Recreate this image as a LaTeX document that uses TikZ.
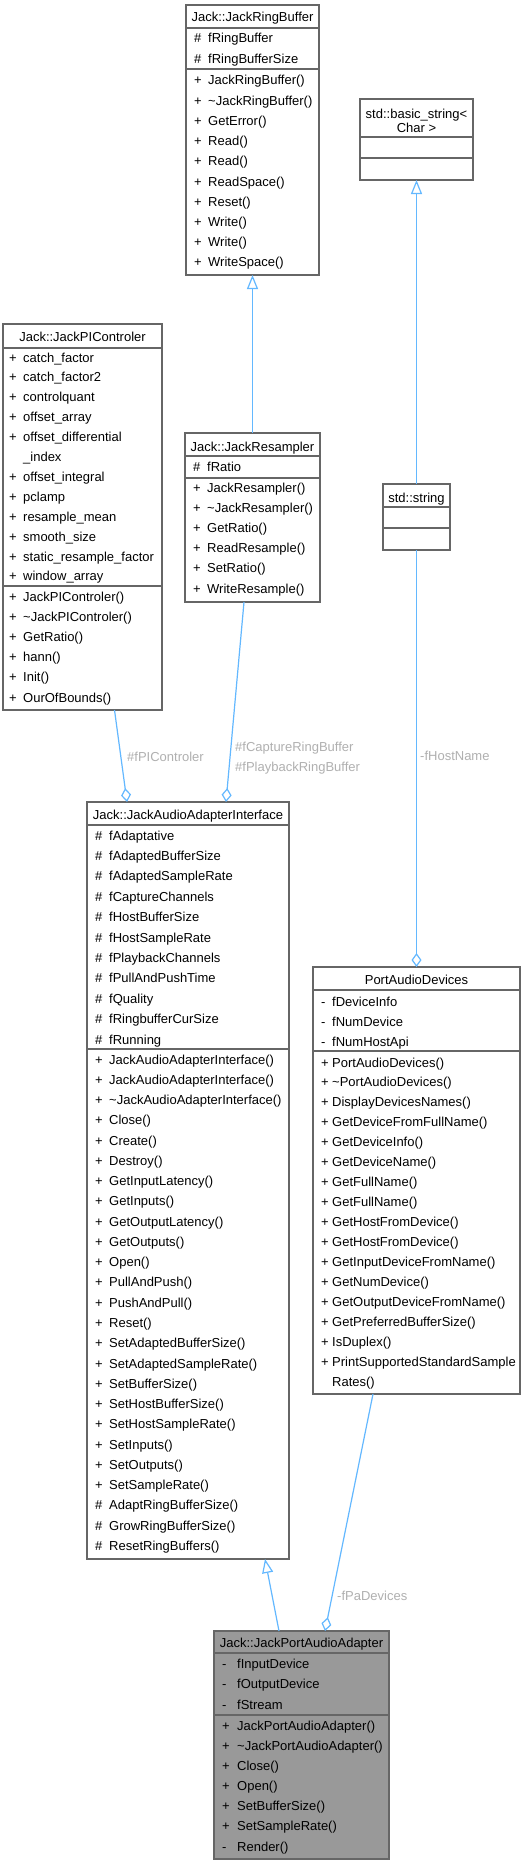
\documentclass[tikz,border=0pt]{standalone}
\usepackage{fontspec}
\setmainfont{Liberation Sans}
\usetikzlibrary{arrows.meta}
\definecolor{edgeblue}{HTML}{63B8FF}
\definecolor{framegray}{HTML}{666666}
\definecolor{labelgray}{HTML}{B0B0B0}
\definecolor{darkfill}{HTML}{999999}
\newcommand\umlfont{\fontsize{13}{15}\selectfont}
\newcommand\memrows[6]{%
  \foreach \pp/\nn [count=\ii from 0] in {#6}{%
    \node[member] (#1-\ii) at (#2,{#4+\ii*#5}) {\makebox[#3pt][l]{\pp}\nn};
  }%
}
\newcommand\umlbox[8]{%
  \node[frame, fill=#8, minimum width={#3pt-#2pt}, minimum height={#7pt-#4pt}, anchor=north west] (#1) at (#2,#4) {};
  \draw[framegray, line width=1.2pt] (#2,#5) -- (#3,#5) (#2,#6) -- (#3,#6);
}
\tikzset{
  frame/.style={draw=framegray, line width=1.2pt, inner sep=0pt, outer sep=0pt, rectangle},
  member/.style={anchor=base west, inner sep=0pt, font=\umlfont},
  cltitle/.style={anchor=base, inner sep=0pt, font=\umlfont},
  elabel/.style={anchor=base west, inner sep=0pt, font=\umlfont, text=labelgray},
  inherit/.style={draw=edgeblue, line width=1.2pt, -{Triangle[open, length=14pt, width=11pt]}},
  aggr/.style={draw=edgeblue, line width=1.2pt, -{Diamond[open, length=14pt, width=10pt]}},
}
\begin{document}
\begin{tikzpicture}[x=1pt,y=-1pt]
\path[use as bounding box, fill=white] (0,0) rectangle (525,1865);

% Jack::JackRingBuffer
\umlbox{rb}{186}{319}{5}{28}{69}{275}{white}
\node[cltitle] (rbT) at (252.5,22) {Jack::JackRingBuffer};
\memrows{rbA}{194}{14}{43}{20.5}{\#/fRingBuffer, \#/fRingBufferSize}
\memrows{rbM}{194}{14}{85}{20.2}{+/JackRingBuffer(), +/\textasciitilde JackRingBuffer(), +/GetError(), +/Read(), +/Read(), +/ReadSpace(), +/Reset(), +/Write(), +/Write(), +/WriteSpace()}

% std::basic_string< Char >
\umlbox{bs}{360}{473}{99}{137}{158}{180}{white}
\node[cltitle] (bsT1) at (416.5,119) {std::basic\_string<};
\node[cltitle] (bsT2) at (416.5,132.5) {Char >};

% Jack::JackPIControler
\umlbox{pic}{3}{162}{324}{348}{586}{710}{white}
\node[cltitle] (picT) at (82.5,341) {Jack::JackPIControler};
\memrows{picA}{9}{14}{362}{19.9}{+/catch\_factor, +/catch\_factor2, +/controlquant, +/offset\_array, +/offset\_differential, {}/\_index, +/offset\_integral, +/pclamp, +/resample\_mean, +/smooth\_size, +/static\_resample\_factor, +/window\_array}
\memrows{picM}{9}{14}{601}{20.2}{+/JackPIControler(), +/\textasciitilde JackPIControler(), +/GetRatio(), +/hann(), +/Init(), +/OurOfBounds()}

% Jack::JackResampler
\umlbox{rs}{185}{320}{433}{456}{478}{602}{white}
\node[cltitle] (rsT) at (252.5,451) {Jack::JackResampler};
\memrows{rsA}{193}{14}{471.7}{20.2}{\#/fRatio}
\memrows{rsM}{193}{14}{492}{20.2}{+/JackResampler(), +/\textasciitilde JackResampler(), +/GetRatio(), +/ReadResample(), +/SetRatio(), +/WriteResample()}

% std::string
\umlbox{str}{383}{450}{484}{507}{528}{550}{white}
\node[cltitle] (strT) at (416.5,502) {std::string};

% Jack::JackAudioAdapterInterface
\umlbox{jaai}{87}{289}{802}{825}{1049}{1559}{white}
\node[cltitle] (jaaiT) at (188,819) {Jack::JackAudioAdapterInterface};
\memrows{jaaiA}{95}{14}{840}{20.4}{\#/fAdaptative, \#/fAdaptedBufferSize, \#/fAdaptedSampleRate, \#/fCaptureChannels, \#/fHostBufferSize, \#/fHostSampleRate, \#/fPlaybackChannels, \#/fPullAndPushTime, \#/fQuality, \#/fRingbufferCurSize, \#/fRunning}
\memrows{jaaiM}{95}{14}{1064}{20.27}{+/JackAudioAdapterInterface(), +/JackAudioAdapterInterface(), +/\textasciitilde JackAudioAdapterInterface(), +/Close(), +/Create(), +/Destroy(), +/GetInputLatency(), +/GetInputs(), +/GetOutputLatency(), +/GetOutputs(), +/Open(), +/PullAndPush(), +/PushAndPull(), +/Reset(), +/SetAdaptedBufferSize(), +/SetAdaptedSampleRate(), +/SetBufferSize(), +/SetHostBufferSize(), +/SetHostSampleRate(), +/SetInputs(), +/SetOutputs(), +/SetSampleRate(), \#/AdaptRingBufferSize(), \#/GrowRingBufferSize(), \#/ResetRingBuffers()}

% PortAudioDevices
\umlbox{pad}{313}{520}{967}{990}{1051}{1394}{white}
\node[cltitle] (padT) at (416.5,984) {PortAudioDevices};
\memrows{padA}{321}{11}{1006}{20}{-/fDeviceInfo, -/fNumDevice, -/fNumHostApi}
\memrows{padM}{321}{11}{1067}{19.94}{+/PortAudioDevices(), +/\textasciitilde PortAudioDevices(), +/DisplayDevicesNames(), +/GetDeviceFromFullName(), +/GetDeviceInfo(), +/GetDeviceName(), +/GetFullName(), +/GetFullName(), +/GetHostFromDevice(), +/GetHostFromDevice(), +/GetInputDeviceFromName(), +/GetNumDevice(), +/GetOutputDeviceFromName(), +/GetPreferredBufferSize(), +/IsDuplex(), +/PrintSupportedStandardSample, {}/Rates()}

% Jack::JackPortAudioAdapter
\umlbox{jpaa}{214}{389}{1631}{1653}{1715}{1859}{darkfill}
\node[cltitle] (jpaaT) at (301.5,1647) {Jack::JackPortAudioAdapter};
\memrows{jpaaA}{222}{15}{1668}{20.7}{-/fInputDevice, -/fOutputDevice, -/fStream}
\memrows{jpaaM}{222}{15}{1730}{20.17}{+/JackPortAudioAdapter(), +/\textasciitilde JackPortAudioAdapter(), +/Close(), +/Open(), +/SetBufferSize(), +/SetSampleRate(), -/Render()}

% connectors
\draw[inherit] (rs.north) -- (rb.south);
\draw[inherit] (str.north) -- (bs.south);
\draw[aggr] ([xshift=111.5pt]pic.south west) -- ([xshift=40pt]jaai.north west);
\draw[aggr] ([xshift=59pt]rs.south west) -- ([xshift=139pt]jaai.north west);
\draw[aggr] (str.south) -- (pad.north);
\draw[inherit] ([xshift=65pt]jpaa.north west) -- ([xshift=178pt]jaai.south west);
\draw[aggr] ([xshift=60pt]pad.south west) -- ([xshift=111pt]jpaa.north west);

% edge labels
\node[elabel] (lpic) at (127,761) {\#fPIControler};
\node[elabel] (lcap) at (235,751) {\#fCaptureRingBuffer};
\node[elabel] (lpb) at (235,771) {\#fPlaybackRingBuffer};
\node[elabel] (lhost) at (420,760) {-fHostName};
\node[elabel] (lpa) at (337,1600) {-fPaDevices};
\end{tikzpicture}
\end{document}
